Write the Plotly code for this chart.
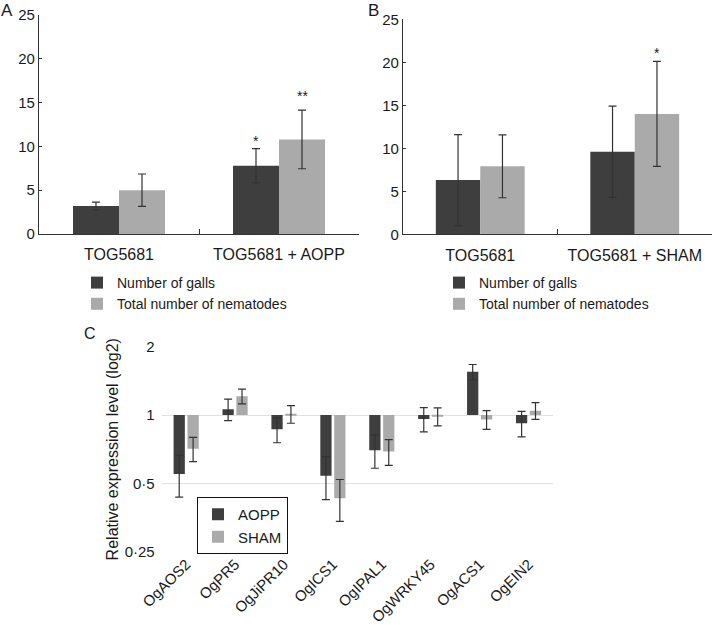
import numpy as np
import plotly.graph_objects as go

W, H = 713, 625
FONT = "Liberation Sans, Arial, sans-serif"
DARK = "#3e3e3e"
LIGHT = "#aaaaaa"
ERR = "#333333"

# Panel A
cats_a = ["TOG5681", "TOG5681 + AOPP"]
galls_a = [3.2, 7.8]
galls_a_sd = [0.45, 1.95]
nema_a = [5.0, 10.8]
nema_a_sd = [1.85, 3.35]

# Panel B
cats_b = ["TOG5681", "TOG5681 + SHAM"]
galls_b = [6.3, 9.6]
galls_b_sd = [5.3, 5.3]
nema_b = [7.9, 14.0]
nema_b_sd = [3.65, 6.1]

# Panel C (relative expression, fold change)
genes = ["OgAOS2", "OgPR5", "OgJiPR10", "OgICS1", "OgIPAL1", "OgWRKY45", "OgACS1", "OgEIN2"]
aopp = [0.55, 1.06, 0.865, 0.54, 0.70, 0.96, 1.55, 0.92]
aopp_sd = [0.115, 0.115, 0.11, 0.116, 0.117, 0.117, 0.12, 0.118]
sham = [0.71, 1.21, 1.01, 0.43, 0.69, 0.985, 0.955, 1.045]
sham_sd = [0.087, 0.09, 0.09, 0.09, 0.09, 0.09, 0.09, 0.088]
c_ticks = [0.25, 0.5, 1, 2]
c_ticktext = ["0·25", "0·5", "1", "2"]


def px(x):
    return x / W


def py(y):
    return 1 - y / H


def eb(sd):
    return dict(type="data", array=sd, color=ERR, thickness=1.2, width=4, visible=True)


fig = go.Figure()
fig.add_bar(x=cats_a, y=galls_a, error_y=eb(galls_a_sd), marker_color=DARK,
            name="Number of galls", xaxis="x", yaxis="y", legend="legend")
fig.add_bar(x=cats_a, y=nema_a, error_y=eb(nema_a_sd), marker_color=LIGHT,
            name="Total number of nematodes", xaxis="x", yaxis="y", legend="legend")
fig.add_bar(x=cats_b, y=galls_b, error_y=eb(galls_b_sd), marker_color=DARK,
            name="Number of galls", xaxis="x2", yaxis="y2", legend="legend2")
fig.add_bar(x=cats_b, y=nema_b, error_y=eb(nema_b_sd), marker_color=LIGHT,
            name="Total number of nematodes", xaxis="x2", yaxis="y2", legend="legend2")


def log_bar(vals, sds):
    v = np.array(vals)
    s = np.array(sds)
    lv = np.log2(v)
    up = np.log2(v + s) - lv
    dn = lv - np.log2(v - s)
    return lv, up, dn


for vals, sds, col, name, off in [(aopp, aopp_sd, DARK, "AOPP", -0.257),
                                  (sham, sham_sd, LIGHT, "SHAM", 0.027)]:
    lv, up, dn = log_bar(vals, sds)
    fig.add_bar(x=genes, y=lv, width=0.23, offset=off, marker_color=col, name=name,
                error_y=dict(type="data", array=up, arrayminus=dn, symmetric=False,
                             color=ERR, thickness=1.2, width=4),
                xaxis="x3", yaxis="y3", legend="legend3")

axis_common = dict(showline=True, linecolor="#333333", linewidth=1.2, automargin=False,
                   ticks="inside", tickcolor="#333333", showgrid=False, zeroline=False)

fig.update_layout(
    template="none",
    width=W, height=H,
    margin=dict(l=0, r=0, t=0, b=0),
    paper_bgcolor="white", plot_bgcolor="white",
    font=dict(family=FONT, size=15, color="#1a1a1a"),
    barmode="group", bargap=0.425, bargroupgap=0,
    xaxis=dict(domain=[px(39), px(359)], anchor="y", tickson="boundaries", ticklen=5,
               tickfont=dict(size=16), ticklabelstandoff=6, **axis_common),
    yaxis=dict(domain=[py(234), py(15)], anchor="x", range=[0, 25], dtick=5, ticklen=3,
               tickfont=dict(size=15), **axis_common),
    xaxis2=dict(domain=[px(403), px(712)], anchor="y2", tickson="boundaries", ticklen=5,
                tickfont=dict(size=16), ticklabelstandoff=6, **axis_common),
    yaxis2=dict(domain=[py(234.3), py(19.3)], anchor="x2", range=[0, 25], dtick=5, ticklen=3,
                tickfont=dict(size=15), **axis_common),
    xaxis3=dict(domain=[px(161.7), px(553)], anchor="y3", showline=False, ticks="",
                tickangle=-45, tickfont=dict(size=15), showgrid=False, zeroline=False,
                range=[-0.5, 7.5], automargin=False),
    yaxis3=dict(domain=[py(551.7), py(346.7)], anchor="x3", range=[-2, 1],
                tickvals=list(np.log2(c_ticks)), ticktext=c_ticktext, automargin=False,
                showgrid=True, gridcolor="#e2e2e2", gridwidth=1, zeroline=False,
                showline=False, ticks="", tickfont=dict(size=15), ticklabelstandoff=6,
                title=dict(text="Relative expression level (log2)", font=dict(size=16), standoff=2)),
    legend=dict(x=px(77), y=py(267), xanchor="left", yanchor="top",
                font=dict(size=14), bgcolor="rgba(0,0,0,0)", tracegroupgap=0),
    legend2=dict(x=px(439), y=py(267), xanchor="left", yanchor="top",
                 font=dict(size=14), bgcolor="rgba(0,0,0,0)", tracegroupgap=0),
    legend3=dict(x=px(197), y=py(497), xanchor="left", yanchor="top",
                 font=dict(size=15), bgcolor="white", bordercolor="#111111", borderwidth=1,
                 tracegroupgap=0),
    showlegend=True,
)

annos = [
    dict(text="A", x=px(7), y=py(10), size=17),
    dict(text="B", x=px(373), y=py(11), size=17),
    dict(text="C", x=px(89.5), y=py(333), size=16),
]
for a in annos:
    fig.add_annotation(text=a["text"], x=a["x"], y=a["y"], xref="paper", yref="paper",
                       showarrow=False, font=dict(size=a["size"], color="#1a1a1a"),
                       xanchor="center", yanchor="middle")

# significance stars
fig.add_annotation(text="*", x=1 - 0.575 / 4, y=10.6, xref="x", yref="y", showarrow=False,
                   font=dict(size=14))
fig.add_annotation(text="**", x=1 + 0.575 / 4, y=15.8, xref="x", yref="y", showarrow=False,
                   font=dict(size=14))
fig.add_annotation(text="*", x=1 + 0.575 / 4, y=21.05, xref="x2", yref="y2", showarrow=False,
                   font=dict(size=14))

fig.write_html("out.html", config={"displayModeBar": False},
               post_script="document.body.style.margin='0';document.body.style.padding='0';")
